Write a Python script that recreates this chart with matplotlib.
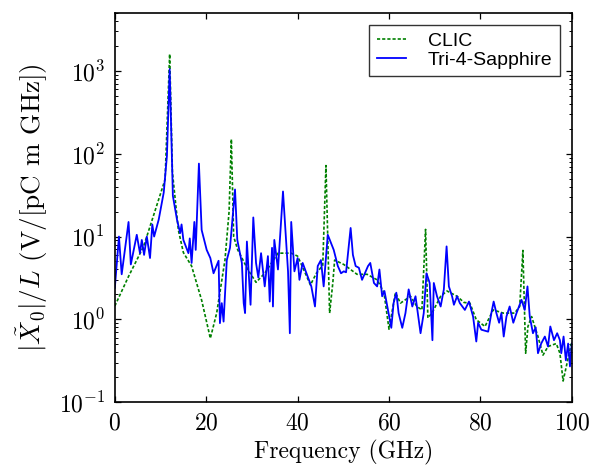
import matplotlib
matplotlib.use("Agg")
import matplotlib.pyplot as plt

plt.rcParams['font.family'] = 'serif'
plt.rcParams['font.serif'] = ['cmr10']
plt.rcParams['mathtext.fontset'] = 'cm'
plt.rcParams['axes.formatter.use_mathtext'] = True
plt.rcParams['axes.unicode_minus'] = False

# CLIC (dashed green)
clic_freq = [0.0, 3.0, 6.3, 11.0, 12.0, 12.6, 13.9, 15.0, 16.8, 19.0, 20.9, 22.3,
             24.1, 25.0, 25.5, 25.8, 26.0, 26.9, 29.1, 30.9, 32.8, 35.7, 38.6, 40.0,
             41.5, 42.8, 44.1, 45.5, 46.2, 47.0, 47.7, 48.1, 50.1, 53.0, 55.2, 57.4,
             58.9, 60.0, 61.4, 62.5, 64.7, 66.1, 67.2, 68.0, 68.5, 69.4, 71.3, 72.7,
             74.9, 76.4, 77.7, 79.1, 81.0, 82.8, 85.0, 87.5, 88.6, 89.3, 89.9, 90.4,
             91.2, 92.6, 93.7, 94.8, 96.6, 97.4, 98.1, 98.8, 99.9]
clic_amp = [1.45, 3.3, 7.6, 49, 1600, 60, 12, 6.4, 4.4, 1.7, 0.59, 1.2,
            5.2, 20, 150, 30, 10, 6.9, 4.0, 2.8, 3.6, 6.3, 6.3, 5.8,
            3.8, 2.6, 3.6, 4.5, 72, 1.19, 2.75, 5.2, 4.6, 3.5, 3.5, 3.0,
            2.1, 0.76, 2.1, 1.57, 1.9, 1.43, 1.3, 12.2, 1.04, 1.19, 1.9, 2.2,
            1.9, 1.6, 1.57, 0.99, 0.82, 1.3, 1.19, 1.19, 1.43, 6.8, 0.39, 0.82,
            1.08, 0.62, 0.37, 0.47, 0.51, 0.39, 0.18, 0.27, 0.51]

# Tri-4-Sapphire (solid blue)
tri_freq = [0.0, 0.9, 1.5, 3.0, 3.5, 4.8, 5.5, 5.9, 6.4, 7.0, 7.7, 8.2, 8.6, 9.6,
            10.7, 11.4, 12.0, 12.7, 13.6, 14.3, 14.6, 15.0, 16.1, 16.4, 16.8, 17.4,
            17.7, 18.4, 19.0, 20.1, 20.9, 21.6, 22.7, 23.0, 23.4, 23.8, 24.5, 25.2,
            26.3, 26.8, 27.8, 28.2, 28.5, 28.9, 29.7, 30.3, 30.9, 31.4, 32.0, 32.8,
            33.5, 33.9, 34.4, 34.6, 34.9, 35.7, 36.8, 37.9, 38.3, 38.6, 39.3, 40.0,
            40.4, 41.1, 43.0, 43.8, 44.4, 45.1, 45.7, 46.6, 47.9, 48.8, 49.5, 50.1,
            50.6, 51.6, 52.1, 52.7, 53.4, 54.1, 54.9, 55.4, 55.9, 56.7, 57.4, 57.9,
            58.5, 59.0, 59.5, 60.5, 61.0, 61.6, 62.1, 62.9, 63.6, 64.3, 65.1, 65.8,
            66.5, 66.9, 67.6, 68.2, 68.9, 69.5, 69.8, 70.5, 71.3, 72.0, 72.6, 73.1,
            73.8, 74.2, 74.9, 75.5, 76.6, 77.5, 78.4, 79.1, 79.5, 80.2, 81.7, 82.4,
            82.9, 83.5, 84.1, 84.6, 85.1, 85.7, 86.4, 87.2, 87.9, 89.0, 89.7, 90.3,
            90.8, 91.5, 92.1, 92.6, 93.3, 94.1, 94.8, 95.3, 96.1, 96.8, 97.4, 97.7,
            98.2, 98.7, 99.2, 99.6, 100.0]
tri_amp = [2.4, 10, 3.5, 15, 4.6, 10.5, 6.3, 9.1, 6.0, 10, 5.5, 14, 10, 16,
           34, 94, 1050, 31, 16, 11, 14, 9.1, 6.3, 9.5, 4.8, 15,
           6.9, 76, 12, 6.9, 5.5, 3.6, 5.1, 0.9, 1.57, 0.94, 5.2, 7.3,
           37, 9.1, 4.8, 1.57, 1.19, 8.7, 1.5, 17, 4.8, 3.2, 6.3, 2.5,
           5.8, 1.64, 7.3, 1.43, 9.1, 4.0, 35, 3.8, 0.68, 15, 3.8, 5.5,
           3.0, 4.8, 2.5, 1.43, 4.4, 5.2, 2.5, 10.5, 6.9, 4.4, 3.6, 3.8,
           3.7, 12.7, 6.0, 4.4, 4.2, 3.0, 3.8, 4.4, 4.8, 2.75, 2.5, 4.0,
           1.9, 2.2, 1.57, 0.79, 1.57, 2.1, 1.19, 0.79, 1.19, 2.3, 1.43, 1.9,
           0.99, 0.68, 1.19, 3.6, 2.75, 0.56, 2.75, 1.9, 1.43, 2.3, 7.6, 2.5,
           1.9, 1.5, 1.9, 1.57, 1.3, 1.64, 1.08, 0.54, 0.91, 0.75, 0.71, 1.19,
           1.64, 1.19, 0.91, 1.19, 0.62, 1.08, 1.43, 0.91, 1.19, 1.72, 1.3, 2.5,
           1.08, 0.68, 0.8, 0.39, 0.51, 0.62, 0.47, 0.82, 0.56, 0.68, 0.56, 0.39,
           0.62, 0.32, 0.51, 0.27, 0.51]

fig = plt.figure(figsize=(5.95, 4.66), dpi=100)
ax = fig.add_axes([0.193, 0.137, 0.768, 0.835])

ax.plot(clic_freq, clic_amp, color=(0, 0.5, 0), ls='--', dashes=(1.9, 1.2),
        lw=1.2, label='CLIC')
ax.plot(tri_freq, tri_amp, color='b', ls='-', lw=1.3, label='Tri-4-Sapphire')

ax.set_yscale('log')
ax.set_xlim(0, 100)
ax.set_ylim(0.1, 5000)
ax.set_xticks([0, 20, 40, 60, 80, 100])

for sp in ax.spines.values():
    sp.set_linewidth(1.2)
ax.tick_params(which='both', direction='in', top=True, right=True, labelsize=17)
ax.tick_params(which='major', length=4.5, width=0.9, pad=7)
ax.tick_params(which='minor', length=2.2, width=0.7)

ax.set_xlabel('Frequency (GHz)', fontsize=17)
ax.set_ylabel(r'$|\tilde{X}_0|/L$ (V/[pC m GHz])', fontsize=19.5, labelpad=6)

leg = ax.legend(loc='upper right', prop={'family': 'Liberation Sans', 'size': 14},
                fancybox=False, framealpha=1, edgecolor='#333333',
                handlelength=1.5, handletextpad=1.1, borderpad=0.4,
                labelspacing=0.05, borderaxespad=0.6)
leg.get_frame().set_linewidth(1.0)

fig.savefig('out.png', dpi=100)
